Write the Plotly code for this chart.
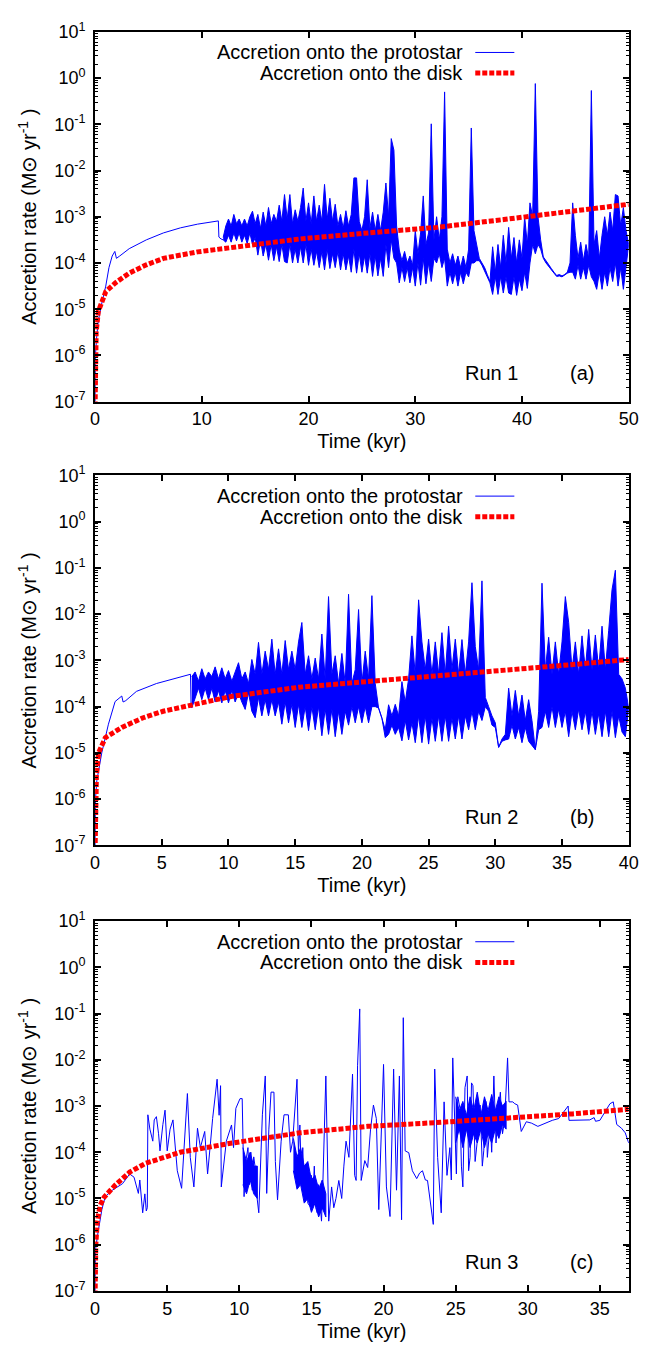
import numpy as np
import plotly.graph_objects as go

# ---------------- DATA (log10 of accretion rate in Msun/yr; time in kyr) ----------------
# Run 1 -- accretion onto the protostar: early smooth part
run1_star_t_early = [0, 0.03, 0.15, 0.3, 0.6, 1.0, 1.3, 1.6, 1.85, 2.0, 2.3, 3.2, 4.8, 6.4, 8.0, 9.6, 11.55, 11.6, 11.8, 12.0]
run1_star_v_early = [-7.0, -6.0, -5.6, -5.25, -4.9, -4.5, -4.1, -3.85, -3.75, -3.9, -3.85, -3.69, -3.5, -3.35, -3.24, -3.16, -3.09, -3.44, -3.48, -3.5]
# Run 1 -- protostar, rapidly oscillating phase: upper / lower envelope every 0.25 kyr from 12.0 kyr
run1_band_start = 12.0
run1_band_step = 0.25
run1_band_hi = [
    -3.45, -3.20, -3.05, -3.20,  # 12
    -2.95, -3.15, -3.05, -3.20,  # 13
    -3.05, -3.20, -3.00, -2.88,  # 14
    -3.15, -2.95, -3.25, -2.90,  # 15
    -3.20, -2.80, -3.15, -2.95,  # 16
    -3.10, -2.75, -3.10, -2.52,  # 17
    -3.05, -2.52, -3.15, -2.85,  # 18
    -3.10, -2.80, -2.38, -3.10,  # 19
    -2.70, -3.15, -2.55, -3.10,  # 20
    -2.75, -3.10, -2.30, -3.05,  # 21
    -2.60, -3.10, -2.73, -3.20,  # 22
    -2.95, -3.25, -2.87, -3.20,  # 23
    -2.95, -2.16, -2.16, -3.10,  # 24
    -3.30, -3.00, -2.20, -3.25,  # 25
    -2.90, -3.30, -2.95, -3.30,  # 26
    -2.90, -2.27, -3.00, -1.31,  # 27
    -1.56, -3.20, -3.72, -3.95,  # 28
    -3.75, -4.00, -3.85, -4.05,  # 29
    -3.30, -3.80, -3.35, -2.55,  # 30
    -3.60, -3.35, -0.99, -3.50,  # 31
    -3.00, -3.50, -3.00, -0.30,  # 32
    -3.70, -4.00, -3.80, -4.05,  # 33
    -3.85, -4.10, -3.85, -4.10,  # 34
    -3.70, -1.08, -3.30, -3.60,  # 35
    -3.90, -4.00, -4.10, -4.25,  # 36
    -4.40, -3.65, -4.20, -3.60,  # 37
    -4.10, -3.40, -4.00, -3.23,  # 38
    -3.90, -3.45, -4.00, -3.50,  # 39
    -3.90, -3.00, -3.60, -2.70,  # 40
    -3.00, -0.12, -3.00, -3.50,  # 41
    -3.87, -3.95, -4.05, -4.12,  # 42
    -4.20, -4.27, -4.25, -4.28,  # 43
    -4.25, -4.20, -4.00, -2.70,  # 44
    -3.40, -3.90, -3.55, -3.95,  # 45
    -3.60, -3.90, -0.27, -3.60,  # 46
    -3.30, -3.90, -3.40, -3.00,  # 47
    -3.40, -2.90, -3.30, -2.52,  # 48
    -2.55, -3.20, -2.80, -3.30,  # 49
    -3.60,                       # 50
]
run1_band_lo = [
    -3.50, -3.55, -3.40, -3.55,  # 12
    -3.35, -3.52, -3.35, -3.55,  # 13
    -3.40, -3.58, -3.35, -3.60,  # 14
    -3.45, -3.83, -3.50, -3.85,  # 15
    -3.60, -3.94, -3.60, -3.95,  # 16
    -3.65, -3.97, -3.60, -3.97,  # 17
    -4.00, -3.60, -4.00, -3.70,  # 18
    -4.00, -3.65, -4.00, -3.60,  # 19
    -4.05, -3.70, -4.05, -3.75,  # 20
    -4.10, -3.75, -4.15, -3.70,  # 21
    -4.12, -3.80, -4.10, -3.75,  # 22
    -4.15, -3.80, -4.15, -3.85,  # 23
    -4.20, -3.70, -4.22, -3.80,  # 24
    -4.20, -3.85, -4.22, -3.80,  # 25
    -4.29, -3.85, -4.28, -3.90,  # 26
    -4.29, -3.60, -4.10, -3.50,  # 27
    -3.90, -4.00, -4.43, -4.10,  # 28
    -4.40, -4.10, -4.43, -4.10,  # 29
    -4.50, -4.00, -4.48, -3.90,  # 30
    -4.45, -4.00, -4.40, -3.90,  # 31
    -4.00, -3.80, -4.10, -3.90,  # 32
    -4.50, -4.20, -4.45, -4.20,  # 33
    -4.50, -4.20, -4.45, -4.20,  # 34
    -4.30, -4.00, -4.00, -3.95,  # 35
    -3.95, -4.05, -4.15, -4.30,  # 36
    -4.43, -4.68, -4.30, -4.68,  # 37
    -4.30, -4.65, -4.30, -4.65,  # 38
    -4.68, -4.30, -4.70, -4.35,  # 39
    -4.60, -4.20, -4.55, -4.00,  # 40
    -3.60, -3.80, -3.60, -3.70,  # 41
    -3.90, -4.00, -4.08, -4.15,  # 42
    -4.22, -4.29, -4.28, -4.30,  # 43
    -4.26, -4.22, -4.20, -4.20,  # 44
    -4.35, -4.05, -4.35, -4.10,  # 45
    -4.35, -4.05, -4.30, -4.40,  # 46
    -4.57, -4.20, -4.57, -4.20,  # 47
    -4.50, -4.10, -4.40, -4.00,  # 48
    -4.50, -4.10, -4.57, -4.10,  # 49
    -3.60,                       # 50
]
# Run 1 -- accretion onto the disk
run1_disk_t = [0, 0.01, 0.04, 0.1, 0.3, 0.6, 1.0, 1.9, 3.2, 4.8, 6.4, 9.6, 11.8, 15.0, 19.2, 25.6, 32.0, 38.3, 44.7, 50.0]
run1_disk_v = [-7.1, -6.5, -6.0, -5.5, -5.05, -4.85, -4.62, -4.43, -4.22, -4.04, -3.9, -3.76, -3.69, -3.6, -3.48, -3.35, -3.23, -3.06, -2.87, -2.73]

# Run 2 -- protostar early smooth part
run2_star_t_early = [0, 0.03, 0.13, 0.5, 1.0, 1.5, 2.0, 2.1, 2.3, 3.1, 4.6, 5.9, 7.15, 7.2]
run2_star_v_early = [-7.0, -6.0, -5.6, -5.0, -4.38, -3.89, -3.77, -3.9, -3.87, -3.67, -3.5, -3.39, -3.3, -4.03]
# Run 2 -- protostar, oscillating phase: envelopes every 0.25 kyr from 7.25 kyr
run2_band_start = 7.25
run2_band_step = 0.25
run2_band_hi = [
    -3.35, -3.25, -3.45,         # 7.25-7.75
    -3.18, -3.40, -3.25, -3.35,  # 8
    -3.14, -3.40, -3.16, -3.40,  # 9
    -3.22, -3.45, -3.25, -3.05,  # 10
    -3.40, -3.25, -3.50, -2.98,  # 11
    -3.30, -2.61, -3.30, -2.80,  # 12
    -3.20, -2.54, -3.30, -2.75,  # 13
    -3.30, -2.57, -3.20, -2.80,  # 14
    -3.20, -2.60, -2.18, -3.30,  # 15
    -2.90, -3.40, -2.95, -3.40,  # 16
    -2.43, -3.40, -1.62, -3.30,  # 17
    -2.90, -3.50, -2.85, -3.50,  # 18
    -1.57, -3.50, -3.20, -1.90,  # 19
    -3.50, -2.80, -3.40, -1.60,  # 20
    -3.50, -4.03, -4.25, -4.50,  # 21
    -3.96, -4.20, -3.95, -4.20,  # 22
    -3.46, -3.90, -3.40, -2.47,  # 23
    -3.30, -1.69, -2.60, -3.20,  # 24
    -2.54, -3.30, -2.60, -3.30,  # 25
    -2.40, -3.30, -2.26, -3.20,  # 26
    -2.54, -3.30, -2.55, -3.30,  # 27
    -2.60, -1.32, -2.70, -3.20,  # 28
    -1.28, -3.80, -4.00, -4.20,  # 29
    -4.35, -4.88, -4.70, -4.60,  # 30
    -3.60, -4.20, -3.65, -4.20,  # 31
    -3.75, -4.30, -3.85, -4.30,  # 32
    -4.93, -4.10, -1.33, -3.20,  # 33
    -2.50, -3.30, -2.60, -3.30,  # 34
    -2.60, -1.62, -2.18, -3.20,  # 35
    -2.60, -3.30, -2.47, -3.20,  # 36
    -2.33, -3.20, -2.45, -3.20,  # 37
    -2.26, -3.20, -2.35, -1.47,  # 38
    -1.05, -3.30, -3.40, -3.60,  # 39
    -4.03,                       # 40
]
run2_band_lo = [
    -4.03, -3.82, -3.60,         # 7.25-7.75
    -3.85, -3.60, -3.85, -3.60,  # 8
    -3.90, -3.65, -3.92, -3.65,  # 9
    -3.92, -3.65, -3.90, -3.70,  # 10
    -3.90, -4.06, -3.70, -4.10,  # 11
    -4.24, -3.80, -4.20, -3.85,  # 12
    -4.20, -3.85, -4.20, -3.90,  # 13
    -4.38, -3.90, -4.35, -3.95,  # 14
    -4.45, -3.95, -4.45, -4.00,  # 15
    -4.52, -4.00, -4.50, -4.00,  # 16
    -4.63, -4.05, -4.60, -4.05,  # 17
    -4.65, -4.10, -4.60, -4.10,  # 18
    -4.40, -4.00, -4.35, -4.00,  # 19
    -4.35, -4.00, -4.35, -4.00,  # 20
    -4.00, -4.03, -4.25, -4.67,  # 21
    -4.60, -4.40, -4.60, -4.45,  # 22
    -4.74, -4.30, -4.72, -4.35,  # 23
    -4.78, -4.20, -4.78, -4.20,  # 24
    -4.81, -4.25, -4.75, -4.20,  # 25
    -4.75, -4.20, -4.75, -4.25,  # 26
    -4.70, -4.20, -4.70, -4.20,  # 27
    -4.50, -4.10, -4.50, -4.10,  # 28
    -4.30, -4.00, -4.10, -4.40,  # 29
    -4.45, -4.88, -4.75, -4.72,  # 30
    -4.70, -4.40, -4.70, -4.45,  # 31
    -4.78, -4.45, -4.75, -4.85,  # 32
    -4.93, -4.50, -4.45, -4.10,  # 33
    -4.45, -4.00, -4.45, -4.05,  # 34
    -4.45, -4.10, -4.65, -4.10,  # 35
    -4.50, -4.05, -4.50, -4.10,  # 36
    -4.60, -4.10, -4.60, -4.15,  # 37
    -4.65, -4.10, -4.65, -4.10,  # 38
    -4.67, -4.20, -4.55, -4.65,  # 39
    -4.03,                       # 40
]
run2_disk_t = [0, 0.01, 0.04, 0.1, 0.26, 0.77, 2.0, 3.6, 5.1, 7.2, 10.2, 15.3, 20.5, 25.6, 30.7, 35.8, 40.0]
run2_disk_v = [-7.1, -6.5, -6.0, -5.5, -5.0, -4.67, -4.45, -4.24, -4.1, -3.97, -3.78, -3.58, -3.46, -3.35, -3.23, -3.09, -2.98]

# Run 3 -- protostar
run3_star_t = [0, 0.03, 0.2, 0.47, 0.7, 1.2, 1.9, 2.4, 2.7, 3.0, 3.1, 3.3, 3.45, 3.55, 3.62, 3.66, 3.8, 4.0, 4.1, 4.25,
               4.4, 4.5, 4.7, 4.85, 5.0, 5.2, 5.4, 5.55, 5.7, 6.0, 6.2, 6.4, 6.6, 6.85, 7.1, 7.3, 7.6, 7.8, 8.0, 8.15,
               8.46, 8.6, 8.7, 8.75, 9.1, 9.46, 9.6, 9.76, 10.05, 10.2, 10.33, 10.45, 10.6, 10.7, 10.8, 10.9, 11.0, 11.1, 11.2, 11.35,
               11.6, 11.8, 11.9, 12.05, 12.2, 12.4, 12.5, 12.65, 12.9, 13.1, 13.4, 13.55, 13.7, 14.0, 14.1, 14.2, 14.3, 14.4, 14.5, 14.65,
               14.75, 14.9, 15.0, 15.1, 15.2, 15.3, 15.4, 15.5, 15.6, 15.7, 15.8, 16.0, 16.2, 16.4, 16.55, 16.7, 16.9, 17.1, 17.25, 17.4,
               17.6, 17.85, 18.0, 18.1, 18.2, 18.35, 18.45, 18.7, 18.9, 19.1, 19.3, 19.5, 19.67, 19.85, 20.0, 20.2, 20.45, 20.7, 20.9, 21.1,
               21.25, 21.37, 21.5, 21.75, 22.0, 22.3, 22.5, 22.7, 22.9, 23.05, 23.3, 23.45, 23.55, 23.75, 24.0, 24.2, 24.4, 24.6, 24.7, 24.8,
               25.05, 25.15, 25.3, 25.4, 25.5, 25.65, 25.8, 25.9, 26.0, 26.1, 26.2, 26.35, 26.5, 26.7, 26.85, 26.95, 27.1, 27.2, 27.4, 27.5,
               27.65, 27.8, 27.9, 28.1, 28.25, 28.4, 28.6, 28.7, 28.96, 29.1, 29.3, 29.55, 29.9, 30.26, 30.7, 31.2, 31.7, 32.15, 32.8, 32.86,
               33.57, 34.3, 34.6, 34.7, 35.0, 35.46, 35.7, 35.93, 36.05, 36.17, 36.5, 36.76, 37.0]
run3_star_v = [-7.0, -6.1, -5.74, -5.24, -4.96, -4.82, -4.68, -4.47, -4.54, -4.89, -4.6, -5.31, -4.9, -5.27, -5.2, -3.19, -3.5, -3.76, -3.3, -3.23,
               -3.6, -3.97, -3.4, -3.09, -3.97, -3.5, -3.30, -3.9, -4.40, -4.78, -3.6, -2.73, -4.11, -4.75, -3.48, -3.9, -3.55, -4.47, -3.8, -3.27,
               -2.42, -3.2, -2.56, -4.75, -3.76, -3.41, -3.9, -3.05, -2.84, -2.84, -4.96, -4.2, -3.90, -4.7, -4.0, -4.82, -4.1, -4.33, -4.9, -5.31,
               -3.19, -2.35, -4.89, -3.5, -2.70, -2.70, -4.2, -5.03, -3.76, -3.19, -3.19, -4.0, -3.76, -2.42, -4.0, -3.41, -4.5, -3.90, -4.8, -4.61,
               -5.1, -5.17, -4.5, -4.96, -4.3, -5.2, -5.31, -4.7, -5.1, -5.49, -4.6, -2.35, -5.49, -4.75, -5.2, -5.0, -4.61, -5.0, -4.3, -3.76,
               -4.11, -2.31, -4.5, -4.61, -2.13, -0.90, -4.61, -4.18, -4.33, -3.5, -2.98, -3.27, -5.24, -3.3, -2.10, -4.75, -5.39, -2.20, -4.82, -2.35,
               -5.46, -1.09, -3.97, -4.01, -4.4, -4.57, -4.45, -4.4, -4.6, -4.61, -5.17, -5.56, -2.20, -4.11, -5.31, -2.91, -4.5, -3.9, -4.6, -1.96,
               -4.47, -2.8, -3.05, -4.3, -4.75, -2.6, -2.35, -4.4, -4.11, -2.5, -2.56, -4.2, -3.76, -2.98, -4.3, -3.97, -2.9, -4.11, -3.34, -4.0,
               -2.35, -3.8, -3.34, -2.70, -3.6, -3.3, -1.96, -2.91, -2.91, -2.95, -2.98, -3.55, -3.34, -3.37, -3.44, -3.37, -3.31, -3.27, -3.0, -3.31,
               -3.31, -3.30, -3.25, -3.33, -3.31, -3.09, -2.95, -2.91, -3.2, -3.40, -3.48, -3.58, -3.80]
# Run 3 -- densely oscillating stretches (envelopes every 0.25 kyr)
run3_bandA_start, run3_bandA_step = 10.25, 0.25
run3_bandA_hi = [-3.90, -4.20, -4.00, -4.30, -4.30]
run3_bandA_lo = [-4.70, -4.90, -4.60, -4.90, -5.00]
run3_bandB_start, run3_bandB_step = 13.75, 0.25
run3_bandB_hi = [-3.70, -4.10, -3.90, -4.30, -4.20, -4.60, -4.50, -4.80, -4.60, -4.90]
run3_bandB_lo = [-4.40, -4.80, -4.70, -5.10, -5.00, -5.30, -5.10, -5.40, -5.20, -5.40]
run3_bandC_start, run3_bandC_step = 25.0, 0.25
run3_bandC_hi = [-2.80, -3.10, -2.90, -3.20, -2.80, -3.10, -2.70, -3.20, -2.80, -3.10, -2.75, -3.10, -2.80, -3.00, -2.90]
run3_bandC_lo = [-3.80, -3.50, -3.90, -3.50, -3.90, -3.60, -3.80, -3.50, -3.90, -3.60, -3.80, -3.50, -3.70, -3.40, -3.50]
run3_disk_t = [0, 0.01, 0.05, 0.15, 0.35, 0.63, 1.4, 2.4, 3.5, 5.9, 9.5, 14.2, 18.9, 23.6, 28.4, 33.1, 37.0]
run3_disk_v = [-7.1, -6.5, -6.0, -5.5, -5.15, -4.97, -4.71, -4.43, -4.24, -4.0, -3.8, -3.58, -3.44, -3.36, -3.27, -3.17, -3.07]

run_labels = ["Run 1", "Run 2", "Run 3"]
panel_labels = ["(a)", "(b)", "(c)"]
x_ranges = [[0, 50], [0, 40], [0, 37]]
x_tickvals = [[0, 10, 20, 30, 40, 50], [0, 5, 10, 15, 20, 25, 30, 35, 40], [0, 5, 10, 15, 20, 25, 30, 35]]
y_exponents = [-7, -6, -5, -4, -3, -2, -1, 0, 1]
legend_names = ["Accretion onto the protostar", "Accretion onto the disk"]

# ---------------- BUILD ----------------
def grid(start, step, n):
    return list(np.round(start + step * np.arange(n), 3))

def lin(vals):
    return [10.0 ** v for v in vals]

def band(start, step, hi, lo):
    return (grid(start, step, len(hi)), hi, lo)

star_lines = [
    (run1_star_t_early, run1_star_v_early),
    (run2_star_t_early, run2_star_v_early),
    (run3_star_t, run3_star_v),
]
star_bands = [
    [band(run1_band_start, run1_band_step, run1_band_hi, run1_band_lo)],
    [band(run2_band_start, run2_band_step, run2_band_hi, run2_band_lo)],
    [band(run3_bandA_start, run3_bandA_step, run3_bandA_hi, run3_bandA_lo),
     band(run3_bandB_start, run3_bandB_step, run3_bandB_hi, run3_bandB_lo),
     band(run3_bandC_start, run3_bandC_step, run3_bandC_hi, run3_bandC_lo)],
]
disk_lines = [(run1_disk_t, run1_disk_v), (run2_disk_t, run2_disk_v), (run3_disk_t, run3_disk_v)]

W, H = 661, 1351
X0, X1 = 84, 630
panels_px = [(12, 388), (463, 839), (916, 1292)]
BLUE = "#0000ff"
RED = "#ff0000"
FONT = "Liberation Sans, Arial, Helvetica, sans-serif"
RED_DASH = "5px,2px"

fig = go.Figure()
layout = dict(
    width=W, height=H,
    margin=dict(l=0, r=0, t=0, b=0),
    paper_bgcolor="white", plot_bgcolor="white",
    showlegend=False,
    font=dict(family=FONT, color="black", size=18),
)

y_tickvals = [10.0 ** e for e in y_exponents]
y_ticktext = ["10<sup>%d</sup>" % e for e in y_exponents]
y_minor = [m * 10.0 ** e for e in y_exponents[:-1] for m in range(2, 10)]

annotations = []
shapes = []
for i in range(3):
    sfx = "" if i == 0 else str(i + 1)
    top, bot = panels_px[i]
    ydom = [1 - bot / H, 1 - top / H]
    xname, yname = "x" + sfx, "y" + sfx

    # protostar accretion (blue, thin)
    t, v = star_lines[i]
    fig.add_trace(go.Scatter(
        x=t, y=lin(v), mode="lines", line=dict(color=BLUE, width=1),
        name=legend_names[0], xaxis=xname, yaxis=yname, hoverinfo="skip"))
    for tb, hi, lo in star_bands[i]:
        fig.add_trace(go.Scatter(
            x=tb + tb[::-1], y=lin(hi) + lin(lo)[::-1], mode="lines",
            fill="toself", fillcolor=BLUE, line=dict(color=BLUE, width=1),
            name=legend_names[0], xaxis=xname, yaxis=yname, hoverinfo="skip"))
    # disk accretion (red, thick dotted) drawn on top
    t, v = disk_lines[i]
    fig.add_trace(go.Scatter(
        x=t, y=lin(v), mode="lines",
        line=dict(color=RED, width=5, dash=RED_DASH), name=legend_names[1],
        xaxis=xname, yaxis=yname, hoverinfo="skip"))

    layout["xaxis" + sfx] = dict(
        domain=[X0 / W, X1 / W], anchor=yname, range=x_ranges[i],
        tickvals=x_tickvals[i], ticks="inside", ticklen=6, tickwidth=1.5, tickcolor="black",
        showline=True, linewidth=2, linecolor="black", mirror="allticks",
        showgrid=False, zeroline=False, tickfont=dict(size=18),
        title=dict(text="Time (kyr)", font=dict(size=20), standoff=6),
    )
    layout["yaxis" + sfx] = dict(
        domain=ydom, anchor=xname, type="log", range=[-7, 1],
        tickvals=y_tickvals, ticktext=y_ticktext,
        ticks="inside", ticklen=6, tickwidth=1.5, tickcolor="black",
        minor=dict(tickvals=y_minor, ticks="inside", ticklen=3, tickwidth=1, tickcolor="black", showgrid=False),
        showline=True, linewidth=2, linecolor="black", mirror="allticks",
        showgrid=False, zeroline=False, tickfont=dict(size=18), ticklabelstandoff=4,
        title=dict(text="Accretion rate (M\u2299 yr<sup>-1</sup> )", font=dict(size=20), standoff=12),
    )

    # legend (gnuplot style: text right-aligned, sample to the right)
    for k, (name, col) in enumerate(zip(legend_names, [BLUE, RED])):
        ypx = top + 21 + 21 * k
        annotations.append(dict(
            x=463 / W, y=1 - ypx / H, xref="paper", yref="paper", text=name,
            showarrow=False, xanchor="right", yanchor="middle", font=dict(size=20)))
        shapes.append(dict(
            type="line", xref="paper", yref="paper",
            x0=473 / W, x1=513 / W, y0=1 - ypx / H, y1=1 - ypx / H,
            line=dict(color=col, width=1 if k == 0 else 5, dash="solid" if k == 0 else RED_DASH)))
    # run labels
    annotations.append(dict(
        x=490 / W, y=1 - (bot - 29) / H, xref="paper", yref="paper", text=run_labels[i],
        showarrow=False, xanchor="center", yanchor="middle", font=dict(size=20)))
    annotations.append(dict(
        x=582 / W, y=1 - (bot - 29) / H, xref="paper", yref="paper", text=panel_labels[i],
        showarrow=False, xanchor="center", yanchor="middle", font=dict(size=20)))

layout["annotations"] = annotations
layout["shapes"] = shapes
fig.update_layout(**layout)
fig.write_html("out.html")
